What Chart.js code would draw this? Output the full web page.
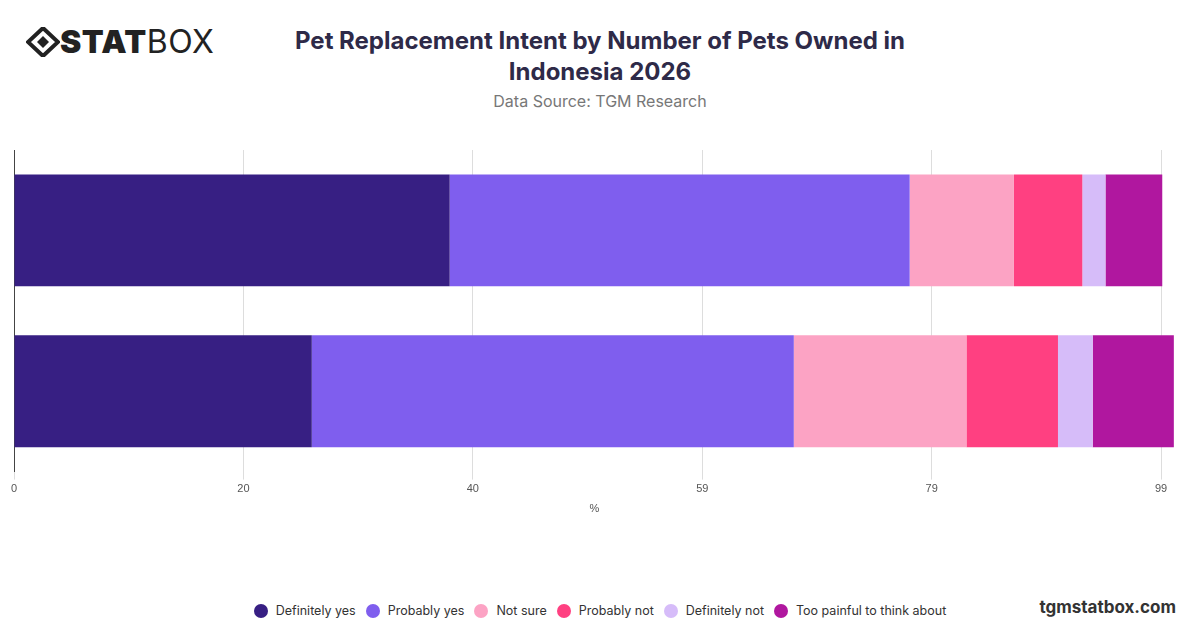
<!DOCTYPE html>
<html><head><meta charset="utf-8">
<script src="https://cdn.jsdelivr.net/npm/chart.js@4"></script>
<style>
body{margin:0;width:1200px;height:628px;background:#fff;font-family:Inter,"Helvetica Neue",Arial,sans-serif;position:relative;overflow:hidden}
#logo{position:absolute;left:26px;top:22px;font-size:32px;color:#222;letter-spacing:0.5px}
#title{position:absolute;left:250px;width:700px;top:25px;text-align:center;font-weight:700;font-size:24px;color:#2e2a48;line-height:31px}
#sub{position:absolute;left:0;width:1200px;top:91px;text-align:center;font-size:16px;color:#777}
#wrap{position:absolute;left:0;top:140px;width:1175px;height:380px}
#legend{position:absolute;top:603px;left:0;width:1200px;text-align:center;font-size:12.5px;color:#333}
#legend span{display:inline-block;margin:0 5px}
#legend i{display:inline-block;width:14px;height:14px;border-radius:50%;vertical-align:-3px;margin-right:8px}
#site{position:absolute;right:24px;top:597px;font-weight:700;font-size:17px;color:#333}
</style></head><body>
<div id="logo"><svg width="34" height="30" viewBox="0 0 34 30" style="vertical-align:-4px"><path d="M17 1 L32 15 L17 29 L2 15Z" fill="none" stroke="#222" stroke-width="4"/><path d="M17 9 L23 15 L17 21 L11 15Z" fill="#222"/></svg><b style="font-weight:900">STAT</b>BOX</div>
<div id="title">Pet Replacement Intent by Number of Pets Owned in Indonesia 2026</div>
<div id="sub">Data Source: TGM Research</div>
<div id="wrap"><canvas id="c"></canvas></div>
<div id="legend"></div>
<div id="site">tgmstatbox.com</div>
<script>
const categories=["1 pet","2+ pets"];
const seriesNames=["Definitely yes","Probably yes","Not sure","Probably not","Definitely not","Too painful to think about"];
const definitelyYes=[37.6,25.7];
const probablyYes=[39.7,41.6];
const notSure=[9.0,14.9];
const probablyNot=[5.9,7.9];
const definitelyNot=[2.0,3.0];
const tooPainful=[4.9,7.0];
const tickValues=[0,19.8,39.6,59.4,79.2,99];
const colors=["#371F83","#7F5EEE","#FCA3C4","#FF4081","#D6BCF9","#B0179F"];
const all=[definitelyYes,probablyYes,notSure,probablyNot,definitelyNot,tooPainful];
document.getElementById('legend').innerHTML=seriesNames.map((n,i)=>`<span><i style="background:${colors[i]}"></i>${n}</span>`).join('');
new Chart(document.getElementById('c'),{type:'bar',
data:{labels:categories,datasets:all.map((d,i)=>({label:seriesNames[i],data:d,backgroundColor:colors[i],categoryPercentage:0.8,barPercentage:0.87}))},
options:{indexAxis:'y',responsive:true,maintainAspectRatio:false,animation:false,
layout:{padding:{left:6,right:0,top:10,bottom:0}},
plugins:{legend:{display:false},tooltip:{enabled:false}},
scales:{
x:{stacked:true,min:0,max:100.2,afterBuildTicks:a=>{a.ticks=tickValues.map(v=>({value:v}))},
ticks:{callback:v=>Math.round(v),color:'#555',font:{size:11}},grid:{color:'#ddd',drawTicks:true,tickLength:8},border:{display:false},
title:{display:true,text:'%',color:'#555',font:{size:11}}},
y:{stacked:true,ticks:{display:false},grid:{display:false},border:{display:true,color:'#444'}}}}});
</script></body></html>
